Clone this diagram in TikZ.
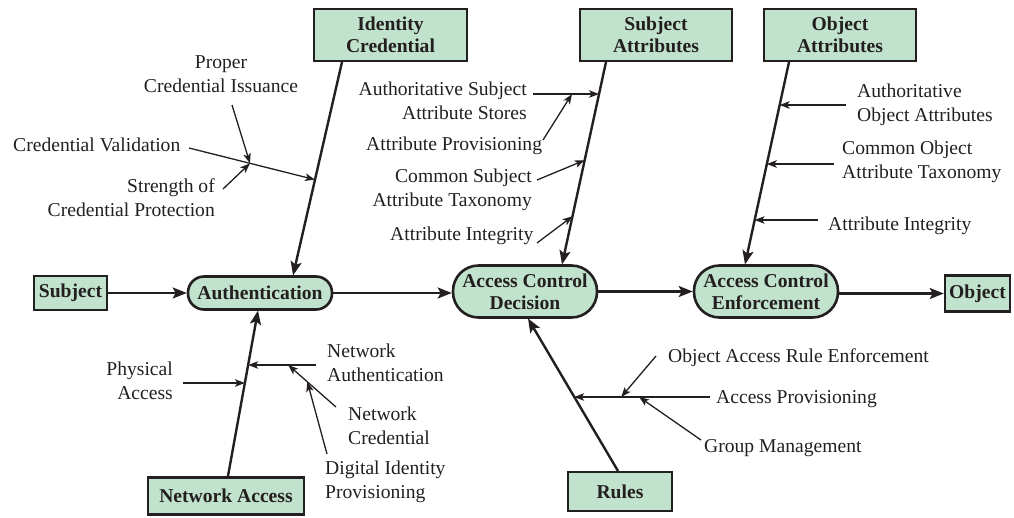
\documentclass[tikz,border=0pt]{standalone}
\usepackage{fontspec}
\setmainfont{Liberation Serif}
\usetikzlibrary{arrows.meta,calc}
\definecolor{boxgreen}{RGB}{193,226,204}
\definecolor{ink}{RGB}{35,31,32}
\newcommand\lblfont{\fontsize{19.6pt}{24pt}\selectfont}
\newcommand\boxfont{\fontsize{19.6pt}{22pt}\selectfont\bfseries}
\begin{document}
\begin{tikzpicture}[x=1pt,y=-1pt,
  box/.style={draw=ink, line width=2.6pt, fill=boxgreen, inner sep=0pt, font=\boxfont, align=center, text=ink},
  lbl/.style={inner sep=0pt, font=\lblfont, text=ink},
  flow/.style={draw=ink, line width=2.4pt, -{Stealth[length=14pt,width=11pt,inset=3pt]}},
  feed/.style={draw=ink, line width=1.3pt, -{Stealth[length=10pt,width=7.5pt,inset=2.5pt]}}]
\useasboundingbox (0,0) rectangle (1014,517);

% main nodes
\node[box, minimum width=73pt, minimum height=34pt] (subj) at (70.5,293) {Subject};
\node[box, rounded corners=16pt, minimum width=144pt, minimum height=33pt] (auth) at (260,293) {Authentication};
\node[box, rounded corners=25.5pt, minimum width=144pt, minimum height=52pt] (acd) at (525,291.5) {Access Control\\Decision};
\node[box, rounded corners=25.5pt, minimum width=144pt, minimum height=52pt] (ace) at (766,291.5) {Access Control\\Enforcement};
\node[box, minimum width=65pt, minimum height=36pt] (obj) at (977.5,293.5) {Object};
\node[box, minimum width=153pt, minimum height=52pt] (idc) at (390.5,35) {Identity\\Credential};
\node[box, minimum width=152pt, minimum height=52pt] (sat) at (656,35) {Subject\\Attributes};
\node[box, minimum width=152pt, minimum height=52pt] (oat) at (840,35) {Object\\Attributes};
\node[box, minimum width=156pt, minimum height=37pt] (net) at (226,496) {Network Access};
\node[box, minimum width=104pt, minimum height=39pt] (rul) at (620,491.5) {Rules};

% main flow
\draw[flow] (subj.east) -- (subj.east -| auth.west);
\draw[flow] (auth.east) -- (auth.east -| acd.west);
\draw[flow] (acd.east) -- (acd.east -| ace.west);
\draw[flow] (ace.east |- obj.west) -- (obj.west);

% attachment points
\coordinate (icS) at (342,62);
\coordinate (authN) at (293,275.5);
\coordinate (saS) at (606,62);
\coordinate (acdN) at (562,264.5);
\coordinate (oaS) at (789,62);
\coordinate (aceN) at (745,264.5);
\coordinate (netN) at (228,476);
\coordinate (authS) at (258,310.5);
\coordinate (rulN) at (618,471);
\coordinate (acdS) at (528,318.5);

\draw[flow] (icS) -- (authN);
\draw[flow] (saS) -- (acdN);
\draw[flow] (oaS) -- (aceN);
\draw[flow] (netN) -- (authS);
\draw[flow] (rulN) -- (acdS);

% labels
\node[lbl, align=center, anchor=north] (lPCI) at (221,55.5) {Proper\\Credential Issuance};
\node[lbl, anchor=north west] (lCV) at (13,137.5) {Credential Validation};
\node[lbl, align=right, anchor=north east] (lSCP) at (215,178.5) {Strength of\\Credential Protection};
\node[lbl, align=right, anchor=north east] (lASAS) at (527,81.5) {Authoritative Subject\\Attribute Stores};
\node[lbl, anchor=north west] (lAP) at (366,136.5) {Attribute Provisioning};
\node[lbl, align=right, anchor=north east] (lCSAT) at (532,168.5) {Common Subject\\Attribute Taxonomy};
\node[lbl, anchor=north west] (lSAI) at (390,226.5) {Attribute Integrity};
\node[lbl, align=left, anchor=north west] (lAOA) at (857,83.5) {Authoritative\\Object Attributes};
\node[lbl, align=left, anchor=north west] (lCOAT) at (842,140.5) {Common Object\\Attribute Taxonomy};
\node[lbl, anchor=north west] (lOAI) at (828,216.5) {Attribute Integrity};
\node[lbl, align=right, anchor=north east] (lPA) at (173,361.5) {Physical\\Access};
\node[lbl, align=left, anchor=north west] (lNA) at (327,343.5) {Network\\Authentication};
\node[lbl, align=left, anchor=north west] (lNC) at (348,406.5) {Network\\Credential};
\node[lbl, align=left, anchor=north west] (lDIP) at (325,460.5) {Digital Identity\\Provisioning};
\node[lbl, anchor=north west] (lOARE) at (668,348.5) {Object Access Rule Enforcement};
\node[lbl, anchor=north west] (lAPv) at (716,390.5) {Access Provisioning};
\node[lbl, anchor=north west] (lGM) at (704,439.5) {Group Management};

% branch arrows: identity credential
\coordinate (cvS) at (189,148);
\coordinate (cvE) at ($(icS)!0.551!(authN)$);
\coordinate (cvM) at ($(cvS)!0.484!(cvE)$);
\coordinate (pciS) at (232,105);
\coordinate (scpS) at (223,189);
\draw[feed] (cvS) -- (cvE);
\draw[feed] (pciS) -- (cvM);
\draw[feed] (scpS) -- (cvM);

% subject attributes
\coordinate (asS) at (533,94);
\coordinate (asE) at ($(saS)!0.158!(acdN)$);
\coordinate (apS) at (543,140);
\coordinate (csS) at (537,180);
\coordinate (siS) at (537,243);
\draw[feed] (asS) -- (asS -| asE);
\draw[feed] (apS) -- ($(asS)!0.59!(asS -| asE)$);
\draw[feed] (csS) -- ($(saS)!0.485!(acdN)$);
\draw[feed] (siS) -- ($(saS)!0.762!(acdN)$);

% object attributes
\coordinate (aoS) at (846,105);
\coordinate (coS) at (834,164);
\coordinate (oiS) at (818,220);
\draw[feed] (aoS) -- (aoS -| {$(oaS)!0.213!(aceN)$});
\draw[feed] (coS) -- (coS -| {$(oaS)!0.505!(aceN)$});
\draw[feed] (oiS) -- (oiS -| {$(oaS)!0.782!(aceN)$});

% network access
\coordinate (paS) at (183,383);
\coordinate (naS) at (316,365);
\coordinate (ncS) at (336,407);
\coordinate (diS) at (327,454);
\coordinate (naE) at (naS -| {$(netN)!0.673!(authS)$});
\coordinate (ncE) at ($(naS)!0.41!(naE)$);
\draw[feed] (paS) -- (paS -| {$(netN)!0.564!(authS)$});
\draw[feed] (naS) -- (naE);
\draw[feed] (ncS) -- (ncE);
\draw[feed] (diS) -- ($(ncS)!0.6!(ncE)$);

% rules
\coordinate (prS) at (710,397);
\coordinate (prE) at (prS -| {$(rulN)!0.487!(acdS)$});
\coordinate (oaeS) at (656,356);
\coordinate (gmS) at (701,440);
\draw[feed] (prS) -- (prE);
\draw[feed] (oaeS) -- ($(prS)!0.654!(prE)$);
\draw[feed] (gmS) -- ($(prS)!0.522!(prE)$);
\end{tikzpicture}
\end{document}
